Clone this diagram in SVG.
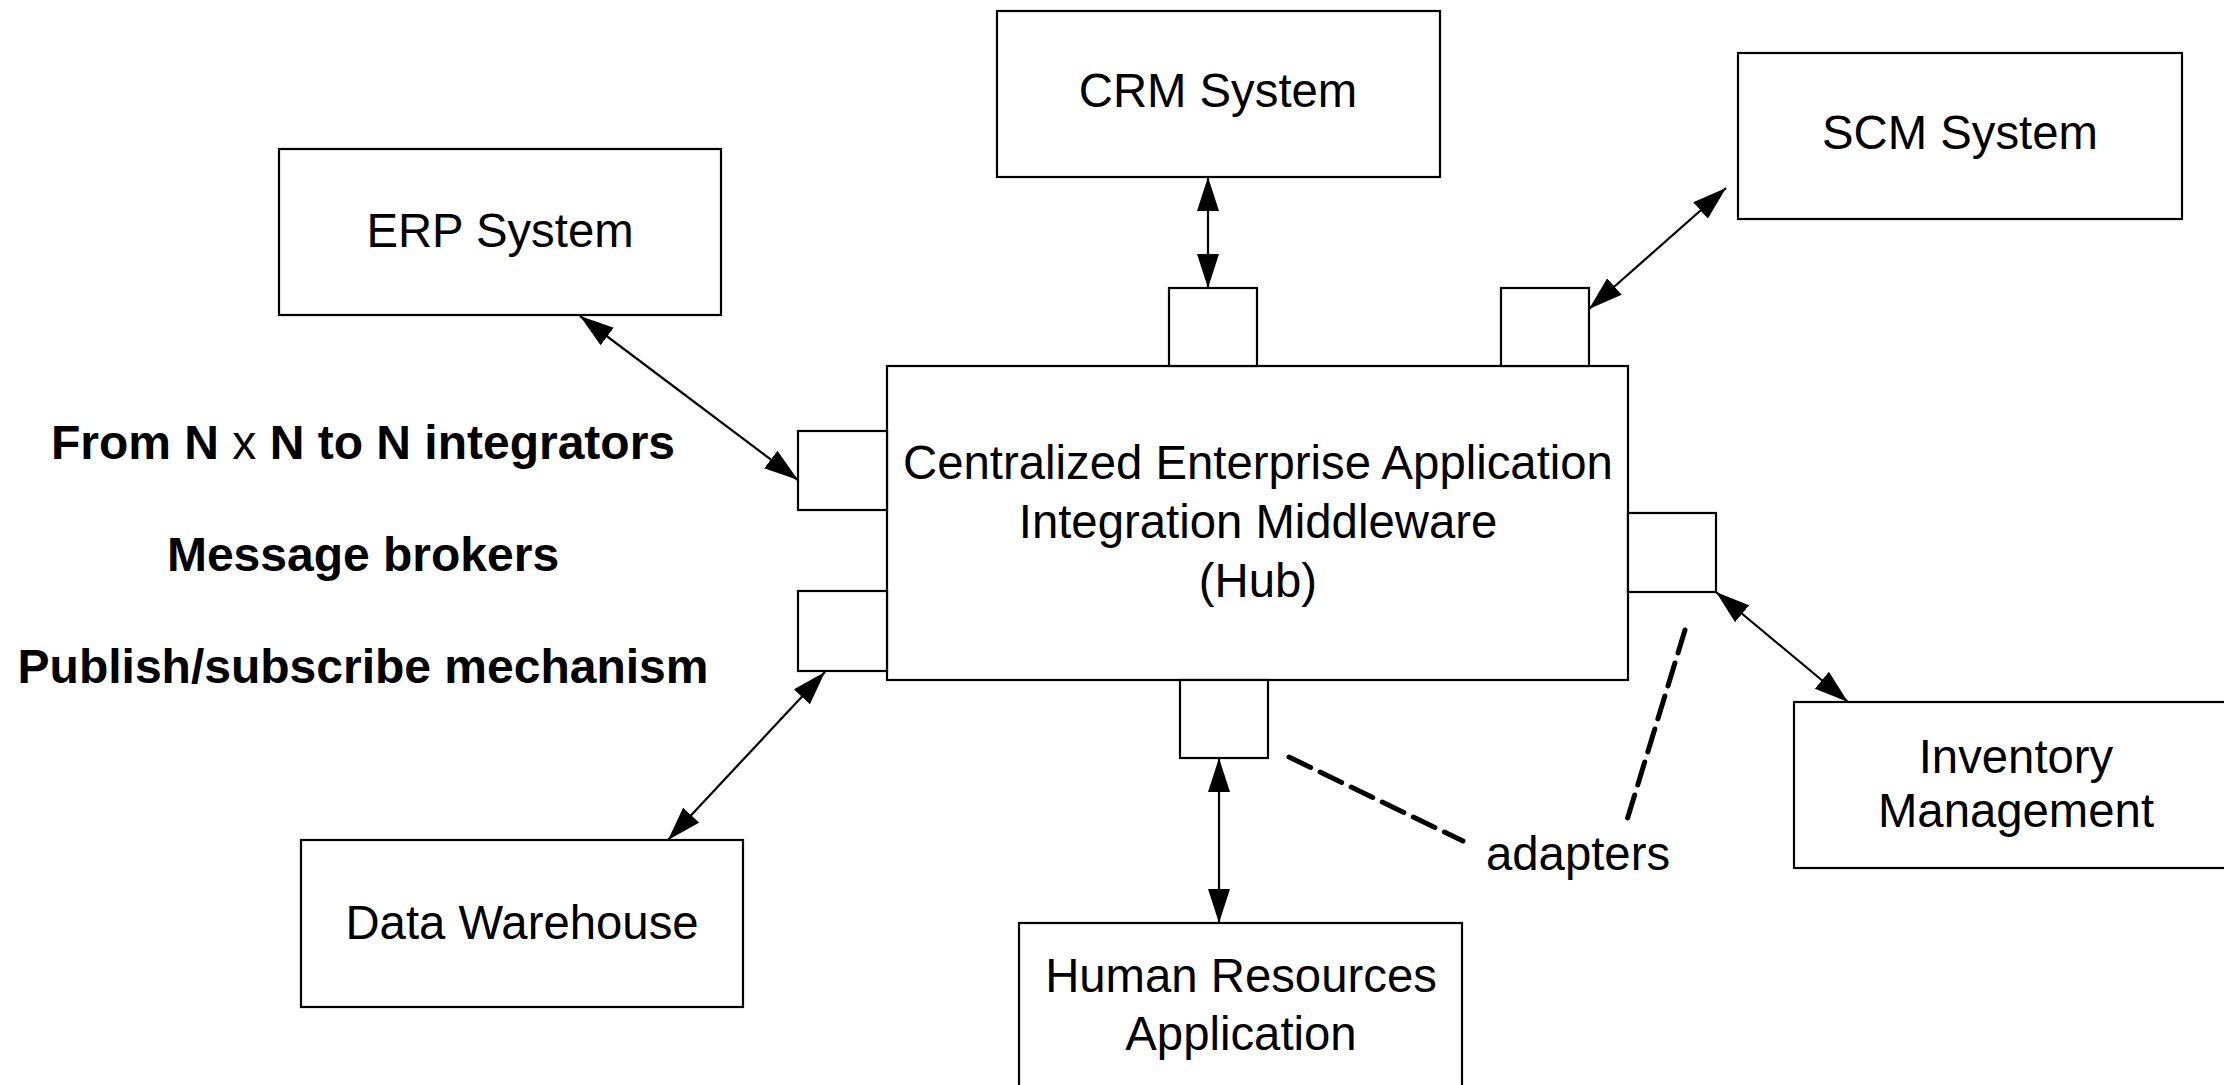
<svg xmlns="http://www.w3.org/2000/svg" width="2224" height="1085" viewBox="0 0 2224 1085">
<style>
  .box { fill: #ffffff; stroke: #000000; stroke-width: 2.2; }
  .lbl { font-family: "Liberation Sans", Arial, sans-serif; font-size: 47.3px; fill: #000000; text-anchor: middle; }
  .side { font-family: "Liberation Sans", Arial, sans-serif; font-size: 48px; font-weight: bold; fill: #000000; text-anchor: middle; }
  .conn { stroke: #000000; stroke-width: 2.2; fill: none; marker-start: url(#arr); marker-end: url(#arr); }
  .dash { stroke: #000000; stroke-width: 5; fill: none; stroke-dasharray: 24 10.5; stroke-linecap: round; }
</style>
<defs>
  <marker id="arr" viewBox="0 0 34 22" refX="34" refY="11" markerWidth="34" markerHeight="22" markerUnits="userSpaceOnUse" orient="auto-start-reverse">
    <path d="M0,0 L34,11 L0,22 Z" fill="#000000"/>
  </marker>
</defs>
<rect width="2224" height="1085" fill="#ffffff"/>

<g id="hub">
  <rect class="box" x="887" y="366" width="741" height="314"/>
  <text class="lbl" x="1258" y="479">Centralized Enterprise Application</text>
  <text class="lbl" x="1258" y="538">Integration Middleware</text>
  <text class="lbl" x="1258" y="597">(Hub)</text>
</g>
<g id="adapter-crm"><rect class="box" x="1169" y="288" width="88" height="78"/></g>
<g id="adapter-scm"><rect class="box" x="1501" y="288" width="88" height="78"/></g>
<g id="adapter-erp"><rect class="box" x="798" y="431" width="89" height="79"/></g>
<g id="adapter-dw"><rect class="box" x="798" y="591" width="89" height="80"/></g>
<g id="adapter-inv"><rect class="box" x="1628" y="513" width="88" height="79"/></g>
<g id="adapter-hr"><rect class="box" x="1180" y="680" width="88" height="78"/></g>

<g id="erp">
  <rect class="box" x="279" y="149" width="442" height="166"/>
  <text class="lbl" x="500" y="247">ERP System</text>
</g>
<g id="crm">
  <rect class="box" x="997" y="11" width="443" height="166"/>
  <text class="lbl" x="1218" y="107">CRM System</text>
</g>
<g id="scm">
  <rect class="box" x="1738" y="53" width="444" height="166"/>
  <text class="lbl" x="1960" y="149">SCM System</text>
</g>
<g id="dw">
  <rect class="box" x="301" y="840" width="442" height="167"/>
  <text class="lbl" x="522" y="939">Data Warehouse</text>
</g>
<g id="hr">
  <rect class="box" x="1019" y="923" width="443" height="170"/>
  <text class="lbl" x="1241" y="992">Human Resources</text>
  <text class="lbl" x="1241" y="1050">Application</text>
</g>
<g id="inventory">
  <rect class="box" x="1794" y="702" width="443" height="166"/>
  <text class="lbl" x="2016" y="773">Inventory</text>
  <text class="lbl" x="2016" y="827">Management</text>
</g>

<g id="notes">
  <text class="side" x="363" y="459">From N <tspan font-weight="normal">x</tspan> N to N integrators</text>
  <text class="side" x="363" y="571">Message brokers</text>
  <text class="side" x="363" y="683">Publish/subscribe mechanism</text>
  <text class="lbl" x="1578" y="870">adapters</text>
</g>

<g id="connectors">
  <line class="conn" x1="580" y1="316" x2="798" y2="480"/>
  <line class="conn" x1="1208" y1="177" x2="1208" y2="288"/>
  <line class="conn" x1="1726" y1="188" x2="1589" y2="309"/>
  <line class="conn" x1="825" y1="672" x2="668" y2="840"/>
  <line class="conn" x1="1219" y1="758" x2="1219" y2="923"/>
  <line class="conn" x1="1716" y1="592" x2="1848" y2="702"/>
  <line class="dash" x1="1289" y1="757" x2="1463" y2="841"/>
  <line class="dash" x1="1685" y1="630" x2="1627" y2="820"/>
</g>
</svg>
